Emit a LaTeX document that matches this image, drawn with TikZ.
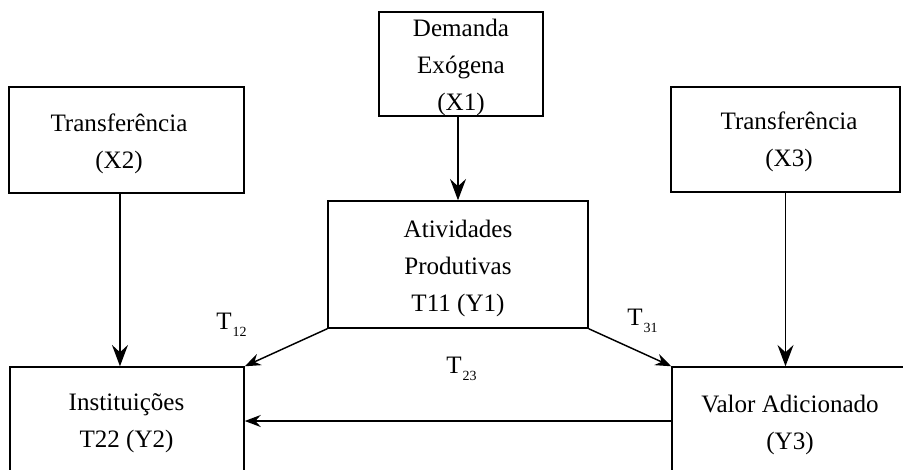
\documentclass[tikz,border=0pt]{standalone}
\usepackage{fontspec}
\setmainfont{Liberation Serif}
\usetikzlibrary{arrows.meta}
\tikzset{
  box/.style={draw, line width=1.1pt, inner sep=0pt, anchor=center},
  txt/.style={font=\fontsize{18.8}{27.75}\selectfont, align=center, inner sep=0pt},
  lbl/.style={font=\fontsize{18.8}{22}\selectfont, inner sep=0pt, anchor=base west},
  bigarrow/.style={line width=1.1pt, -{Stealth[length=16pt,width=12pt,inset=5.5pt]}},
  smallarrow/.style={line width=1.1pt, -{Stealth[length=12pt,width=9pt,inset=4pt]}}
}
\newcommand{\tsub}[1]{T\kern0.8pt{\fontsize{10.5}{10.5}\selectfont\raisebox{-5.5pt}{#1}}}
\begin{document}
\begin{tikzpicture}[x=0.75pt, y=-0.75pt]
\useasboundingbox (0,0) rectangle (903,469);
\clip (0,0) rectangle (903,469);
% boxes
\node[box, minimum width=164*0.75pt, minimum height=104*0.75pt] (x1) at (461,64) {};
\node[box, minimum width=235*0.75pt, minimum height=106*0.75pt] (x2) at (126.5,140) {};
\node[box, minimum width=229*0.75pt, minimum height=105*0.75pt] (x3) at (785.5,139.5) {};
\node[box, minimum width=260*0.75pt, minimum height=127*0.75pt] (y1) at (458,264.5) {};
\node[box, minimum width=234*0.75pt, minimum height=108*0.75pt] (y2) at (127,421) {};
\node[box, minimum width=238*0.75pt, minimum height=108*0.75pt] (y3) at (791,421) {};
% texts
\node[txt] (tx1) at (461,67) {Demanda\\Exógena\\(X1)};
\node[txt] (tx2) at (119,144) {Transferência\\(X2)};
\node[txt] (tx3) at (789,142) {Transferência\\(X3)};
\node[txt] (ty1) at (458,268) {Atividades\\Produtivas\\T11 (Y1)};
\node[txt] (ty2) at (126.5,423) {Instituições\\T22 (Y2)};
\node[txt] (ty3) at (790,425) {Valor Adicionado\\(Y3)};
% labels
\node[lbl] (t12) at (216,329) {\tsub{12}};
\node[lbl] (t23) at (446,373) {\tsub{23}};
\node[lbl] (t31) at (627,325) {\tsub{31}};
% connectors
\draw[bigarrow] (x1.south -| y1.north) -- (y1.north);
\draw[bigarrow] ([xshift=-4.9pt]x2.south) -- ([xshift=-4.9pt]x2.south |- y2.north);
\draw[bigarrow] (x3.south) -- (x3.south |- y3.north);
\draw[smallarrow] (y1.south west) -- (y2.north east);
\draw[smallarrow] (y1.south east) -- (y3.north west);
\draw[smallarrow] (y3.west) -- (y2.east);
\end{tikzpicture}
\end{document}
